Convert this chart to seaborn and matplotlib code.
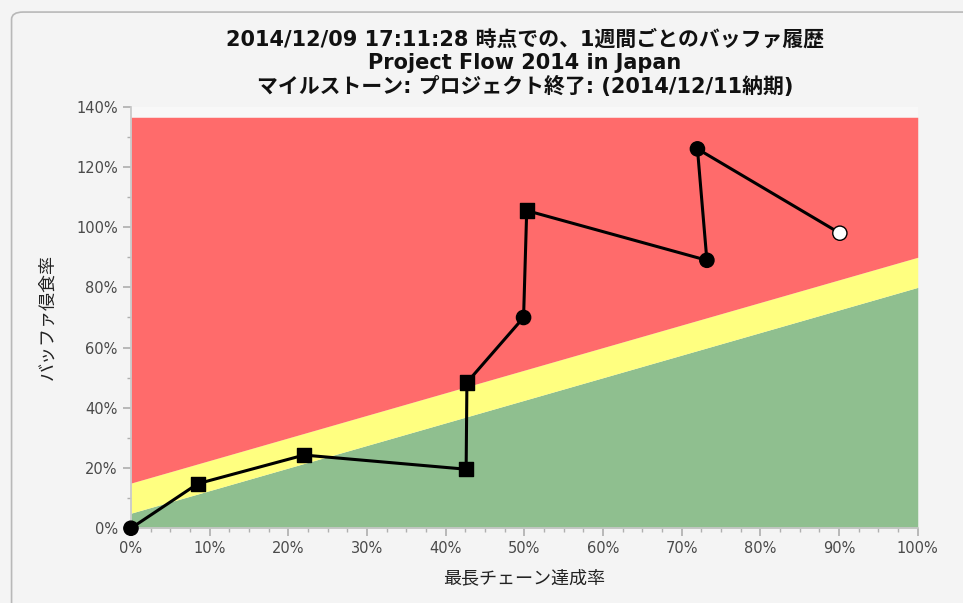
import pandas as pd
import matplotlib.pyplot as plt
import seaborn as sns
from matplotlib.patches import FancyBboxPatch
from matplotlib.ticker import MultipleLocator, FuncFormatter

# buffer history points (x: chain completion %, y: buffer consumption %)
completion = [0, 8.5, 22, 42.6, 42.7, 49.9, 50.3, 73.2, 72.0, 90.1]
consumption = [0, 14.8, 24.3, 19.6, 48.4, 70.0, 105.5, 89.0, 126.0, 98.0]
kind = ["circle", "square", "square", "square", "square", "circle", "square", "circle", "circle", "current"]

# zone boundaries
band_x = [0, 100]
green_top = [5, 80]
yellow_top = [15, 90]
red_top = [136.5, 136.5]

title_lines = [
    "2014/12/09 17:11:28 時点での、1週間ごとのバッファ履歴",
    "Project Flow 2014 in Japan",
    "マイルストーン: プロジェクト終了: (2014/12/11納期)",
]

df = pd.DataFrame({"x": completion, "y": consumption, "kind": kind})

sns.set_theme(style="white")
plt.rcParams['font.family'] = ['DejaVu Sans', 'Noto Sans CJK JP']

fig = plt.figure(figsize=(9.63, 6.03), dpi=100, facecolor="#f4f4f4")
panel = FancyBboxPatch((0.012, -0.05), 1.05, 1.03, boxstyle="round,pad=0,rounding_size=0.012",
                       transform=fig.transFigure, facecolor="#f4f4f4", edgecolor="#b8b8b8",
                       lw=1.2, zorder=-1)
fig.patches.append(panel)

ax = fig.add_axes([0.136, 0.124, 0.817, 0.699])
ax.set_facecolor("#f8f8f8")

ax.fill_between(band_x, 0, green_top, color="#8fbf8f", lw=0)
ax.fill_between(band_x, green_top, yellow_top, color="#ffff80", lw=0)
ax.fill_between(band_x, yellow_top, red_top, color="#ff6b6b", lw=0)

sns.lineplot(data=df, x="x", y="y", sort=False, estimator=None, color="black", lw=2.2, ax=ax, zorder=3)
sns.scatterplot(data=df, x="x", y="y", style="kind", hue="kind",
                markers={"circle": "o", "square": "s", "current": "o"},
                palette={"circle": "black", "square": "black", "current": "white"},
                s=105, edgecolor="black", linewidth=1, legend=False, ax=ax, zorder=4,
                clip_on=False)

ax.set_xlim(0, 100)
ax.set_ylim(0, 140)
ax.xaxis.set_major_locator(MultipleLocator(10))
ax.xaxis.set_minor_locator(MultipleLocator(2.5))
ax.yaxis.set_major_locator(MultipleLocator(20))
ax.yaxis.set_minor_locator(MultipleLocator(10))
pct = FuncFormatter(lambda v, p: f"{v:.0f}%")
ax.xaxis.set_major_formatter(pct)
ax.yaxis.set_major_formatter(pct)
ax.tick_params(axis="both", which="both", direction="out", color="#b0b0b0", labelcolor="#4a4a4a",
               labelsize=10.5, bottom=True, left=True)
ax.tick_params(which="major", length=6)
ax.tick_params(which="minor", length=3)
for side in ["top", "right"]:
    ax.spines[side].set_visible(False)
for side in ["left", "bottom"]:
    ax.spines[side].set_color("#c8c8c8")

ax.set_xlabel("最長チェーン達成率", fontsize=13, color="#222222", labelpad=9)
ax.set_ylabel("バッファ侵食率", fontsize=13, color="#222222", labelpad=14)

ypos = [0.934, 0.896, 0.856]
for line, yy in zip(title_lines, ypos):
    fig.text(0.545, yy, line, ha="center", va="center", fontsize=15, fontweight="bold", color="#111111")

fig.savefig("out.png", dpi=100, facecolor=fig.get_facecolor())
